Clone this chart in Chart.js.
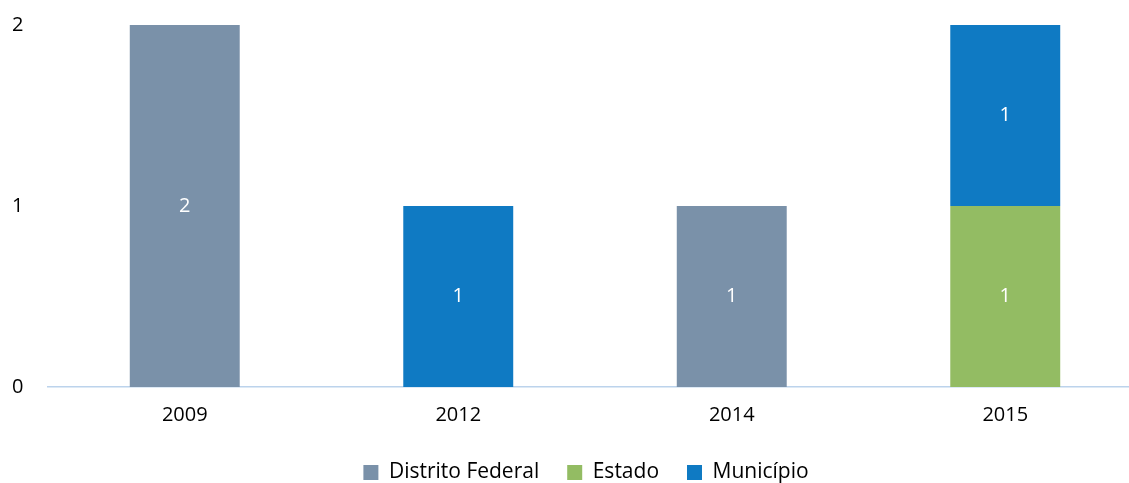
<!DOCTYPE html>
<html>
<head>
<meta charset="utf-8">
<script src="https://cdn.jsdelivr.net/npm/chart.js@4"></script>
<style>
  html, body { margin: 0; padding: 0; overflow: hidden; background: #fff; }
  #wrap { position: relative; width: 1200px; height: 483px; }
</style>
</head>
<body>
<div id="wrap"><canvas id="c"></canvas></div>
<script>
const categories = ["2009", "2012", "2014", "2015"];
const distritoFederal = [2, 0, 1, 0];
const estado = [0, 0, 0, 1];
const municipio = [0, 1, 0, 1];
const seriesNames = ["Distrito Federal", "Estado", "Município"];
const yTicks = [0, 1, 2];

const FONT = "'Open Sans', Lato, sans-serif";

const valueLabels = {
  id: 'valueLabels',
  afterDatasetsDraw(chart) {
    const ctx = chart.ctx;
    ctx.save();
    ctx.fillStyle = '#ffffff';
    ctx.font = "20px " + FONT;
    ctx.textAlign = 'center';
    ctx.textBaseline = 'middle';
    chart.data.datasets.forEach((ds, i) => {
      const meta = chart.getDatasetMeta(i);
      meta.data.forEach((bar, j) => {
        const v = ds.data[j];
        if (!v) return;
        const p = bar.getProps(['x', 'y', 'base'], true);
        ctx.fillText(String(v), p.x, (p.y + p.base) / 2);
      });
    });
    ctx.restore();
  }
};

new Chart(document.getElementById('c'), {
  type: 'bar',
  data: {
    labels: categories,
    datasets: [
      { label: seriesNames[0], data: distritoFederal, backgroundColor: '#7A91A9' },
      { label: seriesNames[1], data: estado, backgroundColor: '#93BC63' },
      { label: seriesNames[2], data: municipio, backgroundColor: '#0F7AC3' }
    ]
  },
  options: {
    responsive: true,
    maintainAspectRatio: false,
    animation: false,
    datasets: { bar: { categoryPercentage: 1, barPercentage: 0.402 } },
    layout: { padding: { top: 25, right: 40, left: 12, bottom: -10 } },
    scales: {
      x: {
        stacked: true,
        grid: { display: false, drawTicks: false, tickLength: 0 },
        border: { display: true, color: '#BCD3EC', width: 1.5 },
        ticks: { color: '#000', font: { family: FONT, size: 20 }, padding: 16 },
        afterFit(s) { s.height = 47; }
      },
      y: {
        stacked: true,
        min: 0, max: 2,
        afterBuildTicks(s) { s.ticks = yTicks.map(v => ({ value: v })); },
        grid: { display: false, drawTicks: false, tickLength: 0 },
        border: { display: false },
        ticks: { color: '#000', font: { family: FONT, size: 20 }, padding: 0, crossAlign: 'far' },
        afterFit(s) { s.width = 36; }
      },
      yRight: {
        position: 'right',
        display: true,
        grid: { display: false, drawTicks: false, tickLength: 0 },
        border: { display: false },
        ticks: { display: false },
        afterFit(s) { s.width = 18; }
      }
    },
    plugins: {
      legend: {
        position: 'bottom',
        labels: {
          color: '#000',
          font: { family: FONT, size: 21 },
          boxWidth: 15, boxHeight: 15,
          padding: 28
        }
      },
      tooltip: { enabled: false }
    }
  },
  plugins: [valueLabels]
});
</script>
</body>
</html>
